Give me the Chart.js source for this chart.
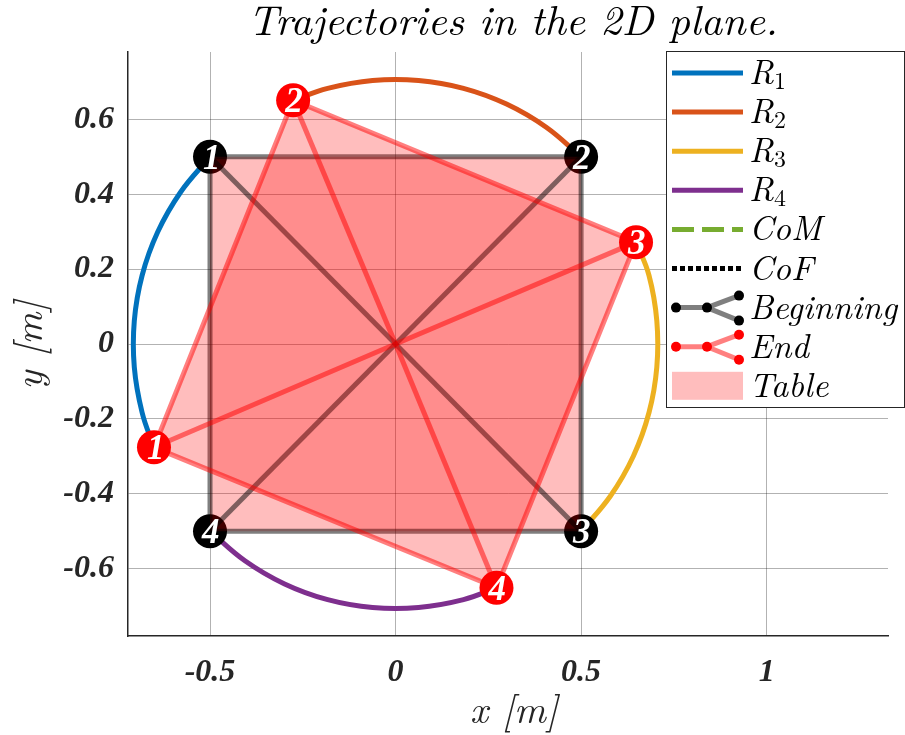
<!DOCTYPE html>
<html><head><meta charset="utf-8">
<script src="https://cdn.jsdelivr.net/npm/chart.js@4.4.1/dist/chart.umd.min.js"></script>
<style>html,body{margin:0;padding:0;background:#fff}#wrap{width:905px;height:735px}</style>
</head><body><div id="wrap"><canvas id="c" width="905" height="735"></canvas></div>
<script>
// ---------- data ----------
const titleText = 'Trajectories in the 2D plane.';
const xAxisTitle = 'x [m]';
const yAxisTitle = 'y [m]';
const xTicks = [-0.5, 0, 0.5, 1];
const xTickLabels = ['-0.5', '0', '0.5', '1'];
const yTicks = [-0.6, -0.4, -0.2, 0, 0.2, 0.4, 0.6];
const yTickLabels = ['-0.6', '-0.4', '-0.2', '0', '0.2', '0.4', '0.6'];
const cornerLabels = ['1', '2', '3', '4'];
const seriesNames = ['R1', 'R2', 'R3', 'R4', 'CoM', 'CoF', 'Beginning', 'End', 'Table'];

// table corners at the beginning and at the end
const beginX = [-0.5, 0.5, 0.5, -0.5];
const beginY = [0.5, 0.5, -0.5, -0.5];
const endX = [-0.651, -0.276, 0.648, 0.272];
const endY = [-0.276, 0.651, 0.272, -0.651];

// robot trajectories (points read along each arc)
const r1X = [-0.500, -0.579, -0.641, -0.683, -0.704, -0.704, -0.683, -0.651];
const r1Y = [0.500, 0.406, 0.299, 0.183, 0.062, -0.062, -0.183, -0.276];
const r2X = [0.500, 0.406, 0.299, 0.183, 0.062, -0.062, -0.183, -0.276];
const r2Y = [0.500, 0.579, 0.641, 0.683, 0.704, 0.704, 0.683, 0.651];
const r3X = [0.500, 0.579, 0.641, 0.683, 0.704, 0.704, 0.683, 0.648];
const r3Y = [-0.500, -0.406, -0.299, -0.183, -0.062, 0.062, 0.183, 0.272];
const r4X = [-0.500, -0.406, -0.299, -0.183, -0.062, 0.062, 0.183, 0.272];
const r4Y = [-0.500, -0.579, -0.641, -0.683, -0.704, -0.704, -0.683, -0.651];

// centre of mass / centre of force (stay at the origin)
const comX = [0], comY = [0];
const cofX = [0], cofY = [0];

// ---------- styles ----------
const C = {
  R1: '#0072BD', R2: '#D95319', R3: '#EDB120', R4: '#7E2F8E', CoM: '#77AC30',
  beginEdge: 'rgba(0,0,0,0.5)', endEdge: 'rgba(255,0,0,0.5)', table: 'rgba(255,0,0,0.26)'
};
const TEX = "'Latin Modern Roman', 'Liberation Serif', serif";
const SERIF = "'Liberation Serif', serif";

const pts = (xs, ys) => xs.map((x, i) => ({ x: x, y: ys[i] }));
const closed = (xs, ys) => pts(xs.concat([xs[0]]), ys.concat([ys[0]]));

const datasets = [];
function add(ds) { datasets.push(Object.assign({ showLine: true, pointRadius: 0, pointHoverRadius: 0, fill: false, borderJoinStyle: 'round', tension: 0 }, ds)); }

// markers
add({ label: 'endMarkers', data: pts(endX, endY), showLine: false, pointRadius: 17, pointBackgroundColor: '#ff0000', pointBorderWidth: 0, order: 0 });
// end edges + spokes
add({ label: 'endEdges', data: closed(endX, endY), borderColor: C.endEdge, borderWidth: 5, order: 1 });
endX.forEach((x, i) => add({ label: 'endSpoke' + i, data: [{ x: x, y: endY[i] }, { x: comX[0], y: comY[0] }], borderColor: C.endEdge, borderWidth: 5, order: 1 }));
// end table fill
add({ label: 'endTable', data: closed(endX, endY), borderWidth: 0, borderColor: 'rgba(0,0,0,0)', backgroundColor: C.table, fill: 'shape', order: 2 });
// beginning edges + spokes
add({ label: 'beginEdges', data: closed(beginX, beginY), borderColor: C.beginEdge, borderWidth: 5, order: 3 });
beginX.forEach((x, i) => add({ label: 'beginSpoke' + i, data: [{ x: x, y: beginY[i] }, { x: comX[0], y: comY[0] }], borderColor: C.beginEdge, borderWidth: 5, order: 3 }));
// beginning table fill
add({ label: 'beginTable', data: closed(beginX, beginY), borderWidth: 0, borderColor: 'rgba(0,0,0,0)', backgroundColor: C.table, fill: 'shape', order: 4 });
// beginning markers
add({ label: 'beginMarkers', data: pts(beginX, beginY), showLine: false, pointRadius: 17, pointBackgroundColor: '#000000', pointBorderWidth: 0, order: 5 });
// trajectories
add({ label: 'R1', data: pts(r1X, r1Y), borderColor: C.R1, borderWidth: 5, tension: 0.4, order: 6 });
add({ label: 'R2', data: pts(r2X, r2Y), borderColor: C.R2, borderWidth: 5, tension: 0.4, order: 6 });
add({ label: 'R3', data: pts(r3X, r3Y), borderColor: C.R3, borderWidth: 5, tension: 0.4, order: 6 });
add({ label: 'R4', data: pts(r4X, r4Y), borderColor: C.R4, borderWidth: 5, tension: 0.4, order: 6 });
add({ label: 'CoM', data: pts(comX, comY), borderColor: C.CoM, borderWidth: 5, borderDash: [16, 8], order: 7 });
add({ label: 'CoF', data: pts(cofX, cofY), borderColor: '#000', borderWidth: 5, borderDash: [5, 3], order: 7 });

function fitSize(ctx, text, style, family, targetW) {
  ctx.font = style + ' 40px ' + family;
  return 40 * targetW / ctx.measureText(text).width;
}

const overlay = {
  id: 'overlay',
  afterDatasetsDraw(chart) {
    const ctx = chart.ctx, xs = chart.scales.x, ys = chart.scales.y;
    ctx.save();
    ctx.fillStyle = '#fff';
    ctx.textAlign = 'left';
    ctx.textBaseline = 'alphabetic';
    ctx.font = 'italic bold 35px ' + SERIF;
    const draw = (X, Y) => X.forEach((x, i) => {
      const t = cornerLabels[i];
      const m = ctx.measureText(t);
      const w = m.actualBoundingBoxRight + m.actualBoundingBoxLeft;
      const h = m.actualBoundingBoxAscent + m.actualBoundingBoxDescent;
      const px = xs.getPixelForValue(x), py = ys.getPixelForValue(Y[i]);
      ctx.fillText(t, px - w / 2 + m.actualBoundingBoxLeft, py + h / 2 - m.actualBoundingBoxDescent);
    });
    draw(beginX, beginY);
    draw(endX, endY);
    ctx.restore();
  },
  afterDraw(chart) {
    const ctx = chart.ctx;
    ctx.save();
    // title
    ctx.fillStyle = '#000';
    ctx.textAlign = 'center';
    ctx.textBaseline = 'alphabetic';
    const ts = fitSize(ctx, titleText, 'italic', TEX, 530);
    ctx.font = 'italic ' + ts.toFixed(1) + 'px ' + TEX;
    ctx.fillText(titleText, 513, 35);
    // axis titles
    ctx.fillStyle = '#262626';
    const as = fitSize(ctx, xAxisTitle, 'italic', TEX, 88);
    ctx.font = 'italic ' + as.toFixed(1) + 'px ' + TEX;
    ctx.fillText(xAxisTitle, 514, 723);
    ctx.save();
    ctx.translate(42, 345);
    ctx.rotate(-Math.PI / 2);
    ctx.fillText(yAxisTitle, 0, 0);
    ctx.restore();
    // legend
    const L = 666.5, T = 51.5, R = 904.5, B = 407.5;
    ctx.fillStyle = '#fff';
    ctx.fillRect(L, T, R - L, B - T);
    ctx.strokeStyle = '#262626';
    ctx.lineWidth = 1;
    ctx.strokeRect(L, T, R - L, B - T);
    const x1 = 672, x2 = 743, tx = 749;
    const row0 = 73, step = 39.1;
    const ls = fitSize(ctx, 'Beginning', 'italic', TEX, 148);
    seriesNames.forEach((name, i) => {
      const cy = row0 + i * step;
      ctx.save();
      ctx.lineCap = 'butt';
      if (/^R\d$/.test(name) || name === 'CoM' || name === 'CoF') {
        ctx.strokeStyle = name === 'CoF' ? '#000' : C[name];
        ctx.lineWidth = 5;
        ctx.setLineDash(name === 'CoM' ? [22, 8] : name === 'CoF' ? [5, 3] : []);
        ctx.beginPath(); ctx.moveTo(x1, cy); ctx.lineTo(x2, cy); ctx.stroke();
      } else if (name === 'Beginning' || name === 'End') {
        const lc = name === 'End' ? C.endEdge : C.beginEdge;
        const dc = name === 'End' ? '#ff0000' : '#000';
        const p0 = [676, cy], p1 = [707, cy], p2 = [739, cy - 12], p3 = [739, cy + 13];
        ctx.strokeStyle = lc; ctx.lineWidth = 5; ctx.lineJoin = 'round';
        ctx.beginPath(); ctx.moveTo(p0[0], p0[1]); ctx.lineTo(p1[0], p1[1]); ctx.lineTo(p2[0], p2[1]);
        ctx.moveTo(p1[0], p1[1]); ctx.lineTo(p3[0], p3[1]); ctx.stroke();
        ctx.fillStyle = dc;
        [p0, p1, p2, p3].forEach(p => { ctx.beginPath(); ctx.arc(p[0], p[1], 5, 0, Math.PI * 2); ctx.fill(); });
      } else if (name === 'Table') {
        ctx.fillStyle = C.table;
        ctx.fillRect(x1, cy - 14, x2 - x1, 28);
      }
      ctx.restore();
      ctx.fillStyle = '#000';
      ctx.textAlign = 'left';
      ctx.textBaseline = 'alphabetic';
      const m = name.match(/^R(\d)$/);
      ctx.font = 'italic ' + ls.toFixed(1) + 'px ' + TEX;
      if (m) {
        ctx.fillText('R', tx, cy + 11);
        const rw = ctx.measureText('R').width;
        ctx.font = (ls * 0.7).toFixed(1) + 'px ' + TEX;
        ctx.fillText(m[1], tx + rw, cy + 16);
      } else {
        ctx.fillText(name, tx, cy + 11);
      }
    });
    ctx.restore();
  }
};

const tickFont = { family: SERIF, size: 32, style: 'italic', weight: 'bold' };
new Chart(document.getElementById('c'), {
  type: 'scatter',
  data: { datasets: datasets },
  options: {
    responsive: false,
    animation: false,
    events: [],
    layout: { padding: { left: 0, right: 12, top: 52, bottom: 0 } },
    plugins: { legend: { display: false }, title: { display: false }, tooltip: { enabled: false } },
    scales: {
      x: {
        type: 'linear', min: -0.721, max: 1.327,
        afterBuildTicks: s => { s.ticks = xTicks.map(v => ({ value: v })); },
        afterFit: s => { s.height = 99; },
        grid: { color: 'rgba(0,0,0,0.3)', lineWidth: 1, drawTicks: false },
        border: { display: true, color: '#262626', width: 1.5 },
        ticks: { padding: 18, font: tickFont, color: '#262626', maxRotation: 0, callback: (v, i) => xTickLabels[i] }
      },
      y: {
        type: 'linear', min: -0.78, max: 0.78,
        afterBuildTicks: s => { s.ticks = yTicks.map(v => ({ value: v })); },
        afterFit: s => { s.width = 128; },
        grid: { color: 'rgba(0,0,0,0.3)', lineWidth: 1, drawTicks: false },
        border: { display: true, color: '#262626', width: 1.5 },
        ticks: { padding: 14, font: tickFont, color: '#262626', callback: (v, i) => yTickLabels[i] }
      }
    }
  },
  plugins: [overlay]
});
</script>
</body></html>
